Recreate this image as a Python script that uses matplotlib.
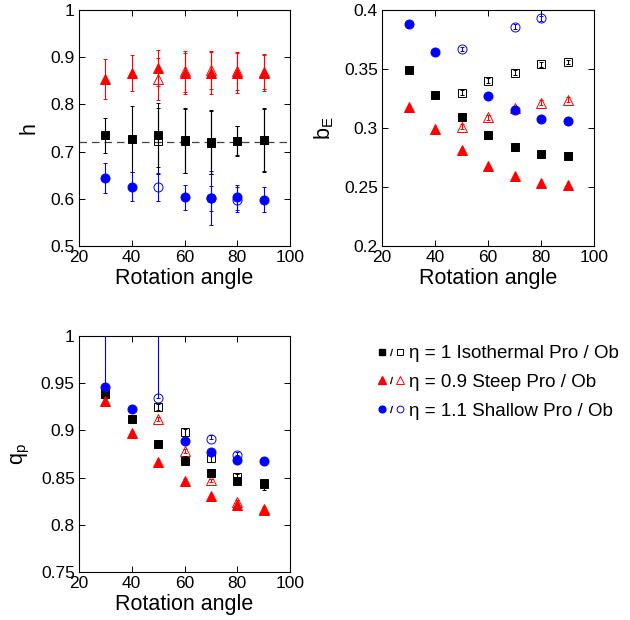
import numpy as np
import matplotlib
matplotlib.use('Agg')
import matplotlib.pyplot as plt
from matplotlib.lines import Line2D
from matplotlib.legend_handler import HandlerTuple
from matplotlib.ticker import FormatStrFormatter

plt.rcParams['font.family'] = ['Liberation Sans', 'DejaVu Sans']
plt.rcParams['mathtext.fontset'] = 'custom'
plt.rcParams['mathtext.rm'] = 'Liberation Sans'

# rotation angles (pro = all angles, ob = oblate runs from 50 deg)
angles = [30, 40, 50, 60, 70, 80, 90]
angles_ob = [50, 60, 70, 80, 90]
angles_sh = [30, 40, 60, 70, 80, 90]   # shallow pro has no 50 deg point
angles_sh_ob = [50, 70, 80]

# h
h_iso = [0.735, 0.727, 0.735, 0.724, 0.720, 0.723, 0.725]
h_iso_err = [0.037, 0.070, 0.068, 0.069, 0.068, 0.031, 0.068]
h_iso_ob = [0.722, 0.722, 0.719, 0.722, 0.724]
h_iso_ob_err = [0.07, 0.068, 0.066, 0.032, 0.066]
h_steep = [0.854, 0.866, 0.877, 0.866, 0.866, 0.867, 0.867]
h_steep_err = [0.042, 0.038, 0.038, 0.043, 0.045, 0.042, 0.038]
h_steep_ob = [0.854, 0.870, 0.873, 0.870, 0.869]
h_steep_ob_err = [0.045, 0.044, 0.04, 0.04, 0.037]
h_sh = [0.644, 0.626, 0.603, 0.601, 0.603, 0.598]
h_sh_err = [0.031, 0.031, 0.027, 0.027, 0.027, 0.026]
h_sh_ob = [0.625, 0.601, 0.598]
h_sh_ob_err = [0.030, 0.057, 0.027]
h_mean = 0.72

# b_E
b_iso = [0.3495, 0.328, 0.309, 0.294, 0.284, 0.278, 0.276]
b_iso_ob = [0.330, 0.340, 0.347, 0.354, 0.356]
b_steep = [0.318, 0.299, 0.281, 0.268, 0.259, 0.253, 0.252]
b_steep_ob = [0.301, 0.309, 0.317, 0.3215, 0.324]
b_sh = [0.388, 0.364, 0.327, 0.315, 0.308, 0.306]
b_sh_ob = [0.367, 0.386, 0.393]
b_ob_err = 0.002

# q_p
q_iso = [0.939, 0.912, 0.886, 0.868, 0.855, 0.846, 0.843]
q_iso_err = [0.003, 0.004, 0.004, 0.005, 0.004, 0.003, 0.006]
q_iso_ob = [0.925, 0.898, 0.871, 0.851, 0.844]
q_iso_ob_err = [0.003, 0.004, 0.005, 0.003, 0.003]
q_steep = [0.931, 0.897, 0.866, 0.846, 0.830, 0.821, 0.816]
q_steep_ob = [0.912, 0.878, 0.847, 0.824, 0.817]
q_sh = [0.946, 0.923, 0.889, 0.877, 0.869, 0.868]
q_sh_up = [0.08, 0.002, 0.002, 0.002, 0.002, 0.002]
q_sh_ob = [0.934, 0.891, 0.874]
q_sh_ob_up = [0.09, 0.004, 0.003]

series_style = {
    'iso': dict(color='black', marker='s', ms=5.5),
    'steep': dict(color='red', marker='^', ms=7),
    'sh': dict(color='blue', marker='o', ms=6.5),
}


def draw(ax, x, y, err, kind, filled):
    st = series_style[kind]
    face = st['color'] if filled else 'none'
    ax.errorbar(x, y, yerr=err, fmt=st['marker'], ms=st['ms'], color=st['color'],
                mfc=face, mec=st['color'], mew=0.7, elinewidth=0.8, capsize=1.5,
                capthick=0.8, zorder=3 if filled else 2)


def style_axes(ax, ylim, yticks, fmt):
    ax.set_xlim(20, 100)
    ax.set_xticks([20, 40, 60, 80, 100])
    ax.set_ylim(*ylim)
    ax.set_yticks(yticks)
    ax.yaxis.set_major_formatter(FormatStrFormatter(fmt))
    ax.tick_params(direction='in', top=True, right=True, length=4, width=0.7,
                   labelsize=12.5, pad=3)
    for sp in ax.spines.values():
        sp.set_linewidth(0.8)
    ax.set_xlabel('Rotation angle', fontsize=15.5, labelpad=2)


fig = plt.figure(figsize=(6.3, 6.2), dpi=100)
W, H = 630.0, 620.0
ax1 = fig.add_axes([79 / W, 1 - 246 / H, 211 / W, 236 / H])
ax2 = fig.add_axes([382 / W, 1 - 246 / H, 212 / W, 236 / H])
ax3 = fig.add_axes([79 / W, 1 - 572 / H, 211 / W, 236 / H])

# h panel
ax1.axhline(h_mean, color='#444444', lw=0.9, ls=(0, (6, 4)), zorder=1)
draw(ax1, angles, h_steep, h_steep_err, 'steep', True)
draw(ax1, angles_ob, h_steep_ob, h_steep_ob_err, 'steep', False)
draw(ax1, angles, h_iso, h_iso_err, 'iso', True)
draw(ax1, angles_ob, h_iso_ob, h_iso_ob_err, 'iso', False)
draw(ax1, angles_sh, h_sh, h_sh_err, 'sh', True)
draw(ax1, angles_sh_ob, h_sh_ob, h_sh_ob_err, 'sh', False)
style_axes(ax1, (0.5, 1.0), np.arange(0.5, 1.01, 0.1), '%g')
ax1.set_ylabel('h', fontsize=15.5, labelpad=8)

# b_E panel
draw(ax2, angles, b_iso, None, 'iso', True)
draw(ax2, angles_ob, b_iso_ob, b_ob_err, 'iso', False)
draw(ax2, angles, b_steep, None, 'steep', True)
draw(ax2, angles_ob, b_steep_ob, b_ob_err, 'steep', False)
draw(ax2, angles_sh, b_sh, None, 'sh', True)
draw(ax2, angles_sh_ob, b_sh_ob, b_ob_err, 'sh', False)
style_axes(ax2, (0.2, 0.4), np.arange(0.2, 0.401, 0.05), '%g')
ax2.set_ylabel(r'b$_\mathrm{E}$', fontsize=15.5, labelpad=6)

# q_p panel
draw(ax3, angles, q_iso, q_iso_err, 'iso', True)
draw(ax3, angles_ob, q_iso_ob, q_iso_ob_err, 'iso', False)
draw(ax3, angles, q_steep, 0.002, 'steep', True)
draw(ax3, angles_ob, q_steep_ob, 0.002, 'steep', False)
draw(ax3, angles_sh, q_sh, [np.zeros(len(q_sh)), q_sh_up], 'sh', True)
draw(ax3, angles_sh_ob, q_sh_ob, [np.zeros(len(q_sh_ob)), q_sh_ob_up], 'sh', False)
style_axes(ax3, (0.75, 1.0), np.arange(0.75, 1.001, 0.05), '%g')
ax3.set_ylabel(r'q$_\mathrm{p}$', fontsize=15.5, labelpad=6)

# legend: filled / open marker pairs
labels = ['\u03b7 = 1 Isothermal Pro / Ob',
          '\u03b7 = 0.9 Steep Pro / Ob',
          '\u03b7 = 1.1 Shallow Pro / Ob']
handles = []
for kind in ['iso', 'steep', 'sh']:
    st = series_style[kind]
    filled = Line2D([], [], ls='none', marker=st['marker'], ms=st['ms'] * 0.75,
                    color=st['color'], mec=st['color'])
    slash = Line2D([], [], ls='none', marker='$/$', ms=5, color='black', mew=0.3)
    hollow = Line2D([], [], ls='none', marker=st['marker'], ms=st['ms'] * 0.75,
                    color=st['color'], mfc='none', mec=st['color'], mew=0.7)
    handles.append((filled, slash, hollow))

fig.legend(handles, labels, handler_map={tuple: HandlerTuple(ndivide=None, pad=0.0)},
           loc='upper left', bbox_to_anchor=(378 / W, 1 - 345 / H), frameon=False,
           fontsize=13.5, handlelength=1.4, handletextpad=0.25, labelspacing=0.62,
           borderaxespad=0, borderpad=0)

fig.savefig('out.png', dpi=100)
